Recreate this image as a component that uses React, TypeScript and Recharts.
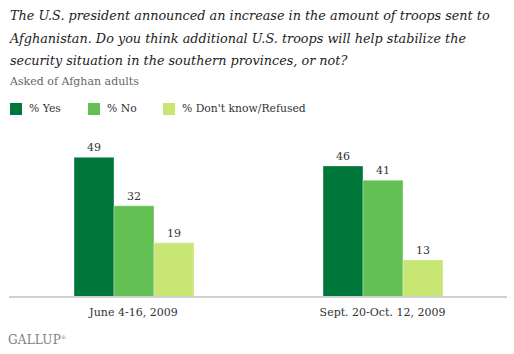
import { BarChart, Bar, XAxis, YAxis, Legend, LabelList } from 'recharts';

const periods = ['June 4-16, 2009', 'Sept. 20-Oct. 12, 2009'];
const yesValues = [49, 46];
const noValues = [32, 41];
const dkValues = [19, 13];

const seriesNames = ['% Yes', '% No', "% Don't know/Refused"];
const seriesColors = ['#00773a', '#63c153', '#c8e673'];

const serif = '"DejaVu Serif", Georgia, serif';

const chartData = periods.map((period, i) => ({
  period,
  yes: yesValues[i],
  no: noValues[i],
  dk: dkValues[i],
}));

function LegendRow({ payload }: any) {
  const lefts = [0, 78, 153];
  const items = [...(payload || [])].sort(
    (a: any, b: any) => seriesNames.indexOf(a.value) - seriesNames.indexOf(b.value)
  );
  return (
    <div style={{ position: 'relative', height: 14, width: 400 }}>
      {items.map((entry: any, i: number) => (
        <div key={entry.value} style={{ position: 'absolute', left: lefts[i], top: 0, display: 'flex', alignItems: 'center', whiteSpace: 'nowrap' }}>
          <span style={{ width: 12, height: 12, background: entry.color, display: 'inline-block', marginRight: 7 }} />
          <span style={{ fontFamily: serif, fontSize: 10.8, color: '#333' }}>{entry.value}</span>
        </div>
      ))}
    </div>
  );
}

export default function App() {
  return (
    <div style={{ position: 'absolute', left: 0, top: 0, width: 514, height: 354, background: '#fff', fontFamily: serif }}>
      <div style={{ position: 'absolute', left: 10, top: 5, width: 504, whiteSpace: 'nowrap', fontStyle: 'italic', fontSize: 12.8, lineHeight: '22.5px', color: '#222' }}>
        The U.S. president announced an increase in the amount of troops sent to<br />
        Afghanistan. Do you think additional U.S. troops will help stabilize the<br />
        security situation in the southern provinces, or not?
      </div>
      <div style={{ position: 'absolute', left: 10, top: 75, fontSize: 11, color: '#666', whiteSpace: 'nowrap' }}>Asked of Afghan adults</div>
      <div style={{ position: 'absolute', left: 8, top: 333, fontSize: 12, color: '#808080', letterSpacing: 0.2 }}>
        GALLUP<sup style={{ fontSize: 5 }}>®</sup>
      </div>
      <BarChart
        width={514}
        height={354}
        data={chartData}
        margin={{ top: 140.5, right: 7, left: 9, bottom: 27 }}
        barGap={0}
        barSize={40}
      >
        <XAxis
          dataKey="period"
          height={30}
          axisLine={{ stroke: '#cfcfcf', strokeWidth: 2 }}
          tickLine={false}
          tick={{ fontFamily: serif, fontSize: 11, fill: '#333' }}
          tickMargin={5}
        />
        <YAxis hide domain={[0, 50]} />
        <Legend
          verticalAlign="top"
          align="left"
          content={<LegendRow />}
          wrapperStyle={{ top: 102, left: 10, width: 400 }}
        />
        <Bar dataKey="yes" name={seriesNames[0]} fill={seriesColors[0]} stroke="#ffffff" strokeOpacity={0.35} isAnimationActive={false}>
          <LabelList dataKey="yes" position="top" offset={6} style={{ fontFamily: serif, fontSize: 11, fill: '#333' }} />
        </Bar>
        <Bar dataKey="no" name={seriesNames[1]} fill={seriesColors[1]} stroke="#ffffff" strokeOpacity={0.35} isAnimationActive={false}>
          <LabelList dataKey="no" position="top" offset={6} style={{ fontFamily: serif, fontSize: 11, fill: '#333' }} />
        </Bar>
        <Bar dataKey="dk" name={seriesNames[2]} fill={seriesColors[2]} stroke="#ffffff" strokeOpacity={0.35} isAnimationActive={false}>
          <LabelList dataKey="dk" position="top" offset={6} style={{ fontFamily: serif, fontSize: 11, fill: '#333' }} />
        </Bar>
      </BarChart>
    </div>
  );
}
